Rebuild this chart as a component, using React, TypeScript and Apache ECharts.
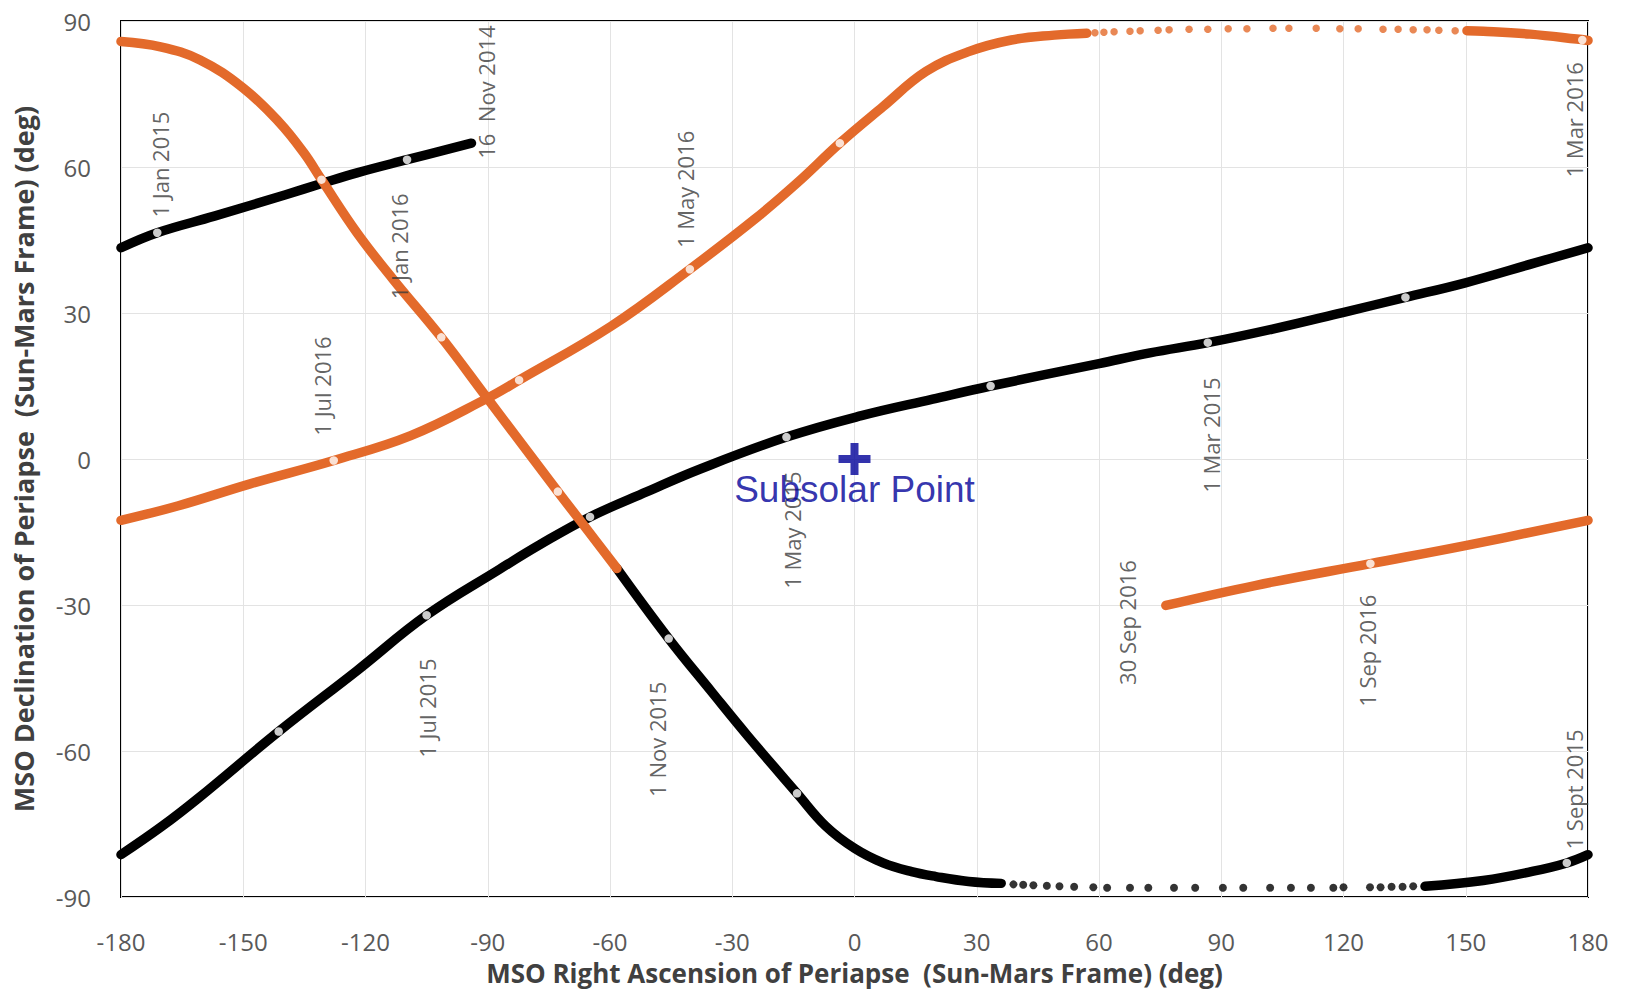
import React, { useEffect, useRef } from "react";
import * as echarts from "echarts";

const BLACK = "#000000";
const ORANGE = "#E36A2B";
const NAVY = "#000099";

const xTicks = { min: -180, max: 180, interval: 30 };
const yTicks = { min: -90, max: 90, interval: 30 };

// [RA, Dec] in degrees
const black2014: [number, number][] = [
  [-94.0, 64.9], [-109.8, 61.5], [-122.1, 58.8], [-130.8, 56.6], [-139.6, 54.3],
  [-157.1, 49.9], [-171.1, 46.5], [-180, 43.4],
];
const black2015a: [number, number][] = [
  [180, 43.4], [167.0, 40.3], [149.9, 36.2], [135.2, 33.2], [119.8, 30.1],
  [102.6, 26.7], [86.7, 23.9], [72.5, 21.8], [60.0, 19.6], [33.4, 15.0],
  [19.2, 12.3], [1.7, 8.9], [-16.7, 4.5], [-37.7, -2.0], [-50.9, -6.7],
  [-64.9, -11.9], [-77.2, -17.6], [-87.0, -22.6], [-105.0, -32.1],
  [-122.1, -43.5], [-141.3, -56.0], [-160.9, -69.6], [-170.0, -75.5], [-180, -81.3],
];
const black2015b: [number, number][] = [
  [180, -81.3], [174.8, -83.0], [166.6, -84.7], [154.3, -86.6], [140.0, -87.8],
];
const black2015c: [number, number][] = [
  [36.0, -87.2], [28.0, -86.8], [20.0, -85.8], [14.0, -84.8], [7.0, -83.0],
  [0.0, -80.0], [-7.0, -75.5], [-14.1, -68.7], [-26.4, -56.7], [-35.1, -47.8],
  [-45.6, -36.9], [-58.3, -22.5],
];
const blackPolarDots: [number, number][] = [
  [39.0, -87.4], [41.4, -87.5], [43.9, -87.6], [47.2, -87.7], [50.3, -87.8],
  [53.9, -87.9], [58.6, -88.0], [62.0, -88.1], [67.6, -88.1], [72.1, -88.1],
  [78.4, -88.1], [83.6, -88.1], [90.4, -88.1], [95.4, -88.1], [102.0, -88.1],
  [107.1, -88.1], [112.0, -88.1], [117.5, -88.1], [120.0, -88.0], [126.5, -88.0],
  [129.1, -88.0], [131.8, -87.9], [134.5, -87.9], [137.1, -87.8],
];

const orange2016a: [number, number][] = [
  [-58.3, -22.5], [-65.8, -14.3], [-72.8, -6.7], [-90.4, 12.8], [-101.4, 25.0],
  [-113.3, 37.0], [-122.1, 46.5], [-130.8, 57.4], [-135.2, 63.0], [-141.3, 69.3],
  [-150.1, 76.3], [-160.6, 82.0], [-170.3, 84.7], [-180, 85.8],
];
const orange2016b: [number, number][] = [
  [180, 86.0], [177.2, 86.3], [165.8, 87.3], [154.3, 87.9], [150.3, 88.0],
];
const orange2016c: [number, number][] = [
  [57.0, 87.5], [49.0, 87.1], [38.5, 86.1], [28.0, 83.7], [17.5, 79.6],
  [7.0, 72.4], [-3.6, 64.9], [-14.1, 56.7], [-24.6, 49.2], [-40.4, 39.0],
  [-59.7, 27.3], [-82.3, 16.2], [-90.5, 12.3], [-108.9, 4.8], [-127.8, -0.3],
  [-148.3, -5.1], [-165.9, -9.6], [-180, -12.6],
];
const orange2016d: [number, number][] = [
  [180, -12.6], [149.9, -17.8], [126.6, -21.5], [98.3, -26.0], [76.4, -30.1],
];
const orangePolarDots: [number, number][] = [
  [59.0, 87.6], [61.2, 87.7], [63.7, 87.8], [67.6, 87.9], [70.1, 88.0],
  [74.5, 88.1], [77.2, 88.2], [82.1, 88.3], [86.7, 88.3], [91.7, 88.4],
  [96.3, 88.4], [102.7, 88.5], [106.6, 88.5], [113.3, 88.5], [119.1, 88.4],
  [123.6, 88.4], [129.7, 88.3], [133.4, 88.3], [137.1, 88.2], [140.5, 88.2],
  [143.4, 88.1], [147.4, 88.0],
];

const monthMarkers: [number, number][] = [
  [-109.8, 61.5], [-171.1, 46.5], [135.2, 33.2], [86.7, 23.9], [33.4, 15.0],
  [-16.7, 4.5], [-64.9, -11.9], [-105.0, -32.1], [-141.3, -56.0], [174.8, -83.0],
  [-14.1, -68.7], [-45.6, -36.9], [-72.8, -6.7], [-101.4, 25.0], [-130.8, 57.4],
  [178.6, 86.1], [-3.6, 64.9], [-40.4, 39.0], [-82.3, 16.2], [-127.8, -0.3],
  [126.6, -21.5],
];

const dateLabelNames: string[] = [
  "16  Nov 2014", "1 Jan 2015", "1 Jan 2016", "1 Jul 2016", "1 May 2016",
  "1 Mar 2016", "1 Mar 2015", "1 May 2015", "1 Jul 2015", "1 Nov 2015",
  "30 Sep 2016", "1 Sep 2016", "1 Sept 2015",
];
const dateLabelPos: [number, number][] = [
  [-90.4, 75.4], [-170.4, 60.5], [-111.8, 43.7], [-130.7, 15.0], [-41.6, 55.4],
  [176.6, 69.7], [87.5, 4.9], [-15.3, -14.6], [-104.9, -51.2], [-48.5, -57.6],
  [66.9, -33.6], [125.8, -39.4], [176.6, -67.9],
];

const subsolarPoint: [number, number] = [0, 0];
const subsolarName = "Subsolar Point";

const xTitle = "MSO Right Ascension of Periapse  (Sun-Mars Frame) (deg)";
const yTitle = "MSO Declination of Periapse  (Sun-Mars Frame) (deg)";

function lineSeries(data: [number, number][], color: string, z: number) {
  return {
    type: "line",
    data,
    symbol: "none",
    showSymbol: false,
    smooth: 0.4,
    silent: true,
    z,
    lineStyle: { color, width: 9.5, cap: "round", join: "round" },
  };
}

export default function App() {
  const ref = useRef<HTMLDivElement>(null);
  useEffect(() => {
    if (!ref.current) return;
    const chart = echarts.init(ref.current, undefined, { renderer: "svg" });
    const tickFont = { color: "#595959", fontSize: 24, lineHeight: 24, fontFamily: "Open Sans" };
    chart.setOption({
      animation: false,
      backgroundColor: "#ffffff",
      grid: {
        left: 121,
        right: 41,
        top: 21,
        bottom: 92,
        show: true,
        borderColor: "#000",
        borderWidth: 2,
        backgroundColor: "transparent",
      },
      xAxis: {
        type: "value",
        min: xTicks.min,
        max: xTicks.max,
        interval: xTicks.interval,
        axisLine: { show: false },
        axisTick: { show: false },
        axisLabel: { ...tickFont, margin: 32 },
        splitLine: { show: true, lineStyle: { color: "#e3e3e3", width: 1 } },
        name: xTitle,
        nameLocation: "middle",
        nameGap: 63,
        nameTextStyle: {
          color: "#404040", fontSize: 26, lineHeight: 26, fontWeight: "bold", fontFamily: "Open Sans",
        },
      },
      yAxis: {
        type: "value",
        min: yTicks.min,
        max: yTicks.max,
        interval: yTicks.interval,
        axisLine: { show: false },
        axisTick: { show: false },
        axisLabel: { ...tickFont, margin: 30 },
        splitLine: { show: true, lineStyle: { color: "#e3e3e3", width: 1 } },
        name: yTitle,
        nameLocation: "middle",
        nameGap: 84,
        nameTextStyle: {
          color: "#404040", fontSize: 27, lineHeight: 27, fontWeight: "bold", fontFamily: "Open Sans",
        },
      },
      series: [
        lineSeries(black2014, BLACK, 2),
        lineSeries(black2015a, BLACK, 2),
        lineSeries(black2015b, BLACK, 2),
        lineSeries(black2015c, BLACK, 2),
        {
          type: "scatter",
          data: blackPolarDots,
          symbolSize: 8,
          silent: true,
          z: 2,
          itemStyle: { color: BLACK },
        },
        lineSeries(orange2016a, ORANGE, 3),
        lineSeries(orange2016b, ORANGE, 3),
        lineSeries(orange2016c, ORANGE, 3),
        lineSeries(orange2016d, ORANGE, 3),
        {
          type: "scatter",
          data: orangePolarDots,
          symbolSize: 7.5,
          silent: true,
          z: 3,
          itemStyle: { color: ORANGE },
        },
        {
          type: "scatter",
          data: monthMarkers,
          symbolSize: 8.5,
          silent: true,
          z: 5,
          itemStyle: { color: "#ffffff" },
        },
        {
          type: "scatter",
          data: dateLabelNames.map((name, i) => ({ name, value: dateLabelPos[i] })),
          symbolSize: 1,
          silent: true,
          z: 6,
          itemStyle: { color: "transparent" },
          label: {
            show: true,
            position: "inside",
            formatter: (p: any) => p.name,
            rotate: 90,
            align: "center",
            verticalAlign: "middle",
            color: "#3a3a3a",
            fontSize: 22,
            fontFamily: "Open Sans",
          },
        },
        {
          type: "scatter",
          data: [{ name: subsolarName, value: subsolarPoint }],
          symbol: "path://M3,0 H5 V3 H8 V5 H5 V8 H3 V5 H0 V3 H3 Z",
          symbolSize: 32,
          silent: true,
          z: 7,
          itemStyle: { color: NAVY },
          label: {
            show: true,
            position: "inside",
            offset: [0, 30],
            formatter: (p: any) => p.name,
            color: NAVY,
            fontSize: 37,
            fontFamily: "Liberation Sans",
          },
        },
      ],
    });
    return () => chart.dispose();
  }, []);
  return (
    <div
      ref={ref}
      style={{ position: "absolute", left: 0, top: 0, width: 1629, height: 991 }}
    />
  );
}
